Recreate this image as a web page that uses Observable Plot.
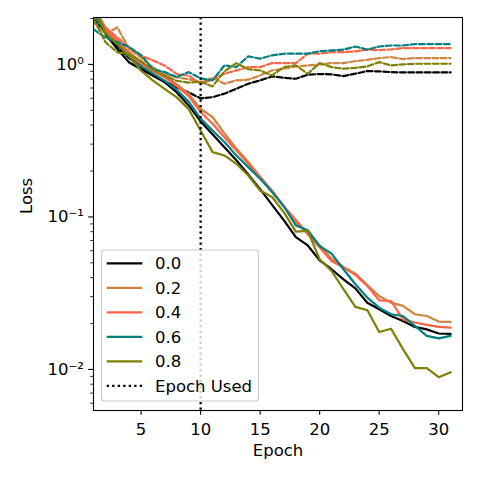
<!DOCTYPE html>
<html>
<head>
<meta charset="utf-8">
<script src="https://cdn.jsdelivr.net/npm/d3@7"></script>
<script src="https://cdn.jsdelivr.net/npm/@observablehq/plot@0.6"></script>
<style>
  html, body { margin: 0; padding: 0; background: white; }
  #chart { width: 480px; height: 480px; }
</style>
</head>
<body>
<div id="chart"></div>
<script>
const epochs = [1,2,3,4,5,6,7,8,9,10,11,12,13,14,15,16,17,18,19,20,21,22,23,24,25,26,27,28,29,30,31];
const rates = ["0.0", "0.2", "0.4", "0.6", "0.8"];
const colors = ["black", "peru", "tomato", "teal", "olive"];
const epochUsed = [10];

// training loss (solid)
const train00 = [2.3,1.58,1.26,1.03,0.93,0.843,0.762,0.655,0.538,0.423,0.348,0.286,0.235,0.19,0.152,0.12,0.095,0.0738,0.065,0.0519,0.0454,0.039,0.034,0.0274,0.0248,0.0224,0.0208,0.019,0.0183,0.0172,0.0171];
const train02 = [2.4,1.75,1.45,1.2,1.03,0.92,0.84,0.74,0.64,0.51,0.452,0.353,0.281,0.229,0.183,0.145,0.117,0.0927,0.0775,0.065,0.0532,0.047,0.0425,0.0357,0.0303,0.0274,0.0261,0.023,0.0224,0.0206,0.0205];
const train04 = [2.3,1.7,1.4,1.17,1.0,0.9,0.82,0.72,0.62,0.487,0.408,0.333,0.273,0.223,0.183,0.149,0.117,0.0955,0.077,0.063,0.0514,0.0465,0.0417,0.0353,0.0284,0.0281,0.0213,0.0203,0.0196,0.019,0.0188];
const train06 = [2.2,1.6,1.35,1.12,0.97,0.87,0.78,0.68,0.57,0.441,0.369,0.31,0.253,0.212,0.178,0.146,0.117,0.088,0.0818,0.0645,0.0575,0.0454,0.0362,0.0296,0.0254,0.023,0.0224,0.0193,0.0166,0.016,0.0166];
const train08 = [2.4,1.62,1.36,1.14,0.909,0.782,0.689,0.608,0.509,0.369,0.266,0.253,0.223,0.187,0.149,0.135,0.107,0.08,0.081,0.0528,0.0442,0.0336,0.0257,0.0245,0.0176,0.0185,0.0136,0.0102,0.0102,0.0089,0.0096];

// validation loss (dashed)
const val00 = [2.0,1.6,1.3,1.1,0.95,0.85,0.77,0.707,0.655,0.598,0.61,0.643,0.692,0.747,0.785,0.834,0.818,0.805,0.856,0.865,0.86,0.838,0.869,0.904,0.9,0.89,0.886,0.886,0.886,0.886,0.886];
const val02 = [1.9,1.58,1.75,1.26,1.11,0.956,0.864,0.822,0.8,0.762,0.818,0.747,0.786,0.794,0.847,0.913,0.937,0.97,0.985,1.0,1.02,1.02,1.05,1.07,1.1,1.117,1.083,1.1,1.1,1.1,1.1];
const val04 = [2.1,1.75,1.5,1.29,1.14,1.06,0.98,0.864,0.843,0.747,0.794,0.869,0.913,0.96,0.96,1.02,1.02,1.02,1.175,1.175,1.204,1.204,1.217,1.25,1.24,1.254,1.28,1.28,1.28,1.28,1.28];
const val06 = [1.7,1.5,1.4,1.3,1.15,0.93,0.89,0.826,0.89,0.81,0.786,0.985,0.96,1.13,1.09,1.146,1.175,1.175,1.175,1.22,1.235,1.25,1.31,1.25,1.31,1.33,1.33,1.36,1.36,1.36,1.36];
const val08 = [2.0,1.4,1.2,1.17,1.05,0.92,0.84,0.78,0.76,0.77,0.717,0.9,1.02,0.93,0.913,0.847,0.96,0.985,0.869,1.02,0.96,0.937,0.95,0.97,1.035,0.985,1.0,1.01,1.01,1.01,1.01];

const yMajor = [0.01, 0.1, 1];
const yMajorLabels = ["10\u207B\u00B2", "10\u207B\u00B9", "10\u2070"];
const yMinor = [0.006,0.007,0.008,0.009,0.02,0.03,0.04,0.05,0.06,0.07,0.08,0.09,0.2,0.3,0.4,0.5,0.6,0.7,0.8,0.9,2];
const xTicks = [5, 10, 15, 20, 25, 30];

const trainSets = [train00, train02, train04, train06, train08];
const valSets = [val00, val02, val04, val06, val08];

const toRows = (vals) => epochs.map((e, i) => ({epoch: e, loss: vals[i]}));

const LW = 2.2;
const DASH = "5.8,2.5";
const DOT = "2.3,3.2";

const lineMarks = [];
rates.forEach((r, k) => {
  lineMarks.push(Plot.line(toRows(trainSets[k]), {x: "epoch", y: "loss", stroke: colors[k], strokeWidth: LW, clip: true}));
  lineMarks.push(Plot.line(toRows(valSets[k]), {x: "epoch", y: "loss", stroke: colors[k], strokeWidth: LW, strokeDasharray: DASH, clip: true}));
});

const FONT = "16.5px";

const chart = Plot.plot({
  width: 480,
  height: 480,
  marginLeft: 93,
  marginRight: 18,
  marginTop: 17,
  marginBottom: 70,
  style: {fontFamily: "DejaVu Sans", fontSize: FONT, background: "white", color: "black", overflow: "visible"},
  x: {domain: [1, 32]},
  y: {type: "log", domain: [0.00538, 2.03]},
  marks: [
    ...lineMarks,
    Plot.ruleX(epochUsed, {stroke: "black", strokeWidth: 2.3, strokeDasharray: DOT}),
    Plot.axisX({ticks: xTicks, tickSize: 4.86, tickPadding: 8, strokeWidth: 1.1, label: null, fontSize: FONT}),
    Plot.axisY({ticks: yMajor, tickFormat: (d) => yMajorLabels[yMajor.indexOf(d)], tickSize: 4.86, tickPadding: 4.86, strokeWidth: 1.1, label: null, fontSize: FONT}),
    Plot.axisY({ticks: yMinor, tickFormat: () => "", tickSize: 2.8, strokeWidth: 0.8, label: null}),
    Plot.frame({stroke: "black", strokeWidth: 1.1}),
    Plot.text(["Epoch"], {frameAnchor: "bottom", dy: 45, text: (d) => d, fontSize: FONT}),
    Plot.text(["Loss"], {frameAnchor: "left", dx: -67, rotate: -90, text: (d) => d, fontSize: FONT})
  ]
});

document.getElementById("chart").appendChild(chart);

// legend (matplotlib style, inside the axes, lower left)
const svg = d3.select(chart);
const lg = svg.append("g").attr("class", "legend").attr("text-anchor", "start");
lg.append("rect")
  .attr("x", 101.5).attr("y", 250).attr("width", 157).attr("height", 151)
  .attr("rx", 3).attr("fill", "white").attr("fill-opacity", 0.8)
  .attr("stroke", "#cccccc").attr("stroke-width", 1.1);
const legendItems = rates.map((r, k) => ({label: r, color: colors[k], dash: null}))
  .concat([{label: "Epoch Used", color: "black", dash: DOT}]);
legendItems.forEach((it, i) => {
  const yy = 263.3 + i * 24.5;
  const ln = lg.append("line")
    .attr("x1", 106.7).attr("x2", 142.3).attr("y1", yy).attr("y2", yy)
    .attr("stroke", it.color).attr("stroke-width", LW);
  if (it.dash) ln.attr("stroke-dasharray", it.dash);
  lg.append("text")
    .attr("x", 155).attr("y", yy).attr("dy", "0.35em")
    .attr("text-anchor", "start")
    .attr("font-family", "DejaVu Sans").attr("font-size", FONT)
    .attr("fill", "black")
    .text(it.label);
});
</script>
</body>
</html>
